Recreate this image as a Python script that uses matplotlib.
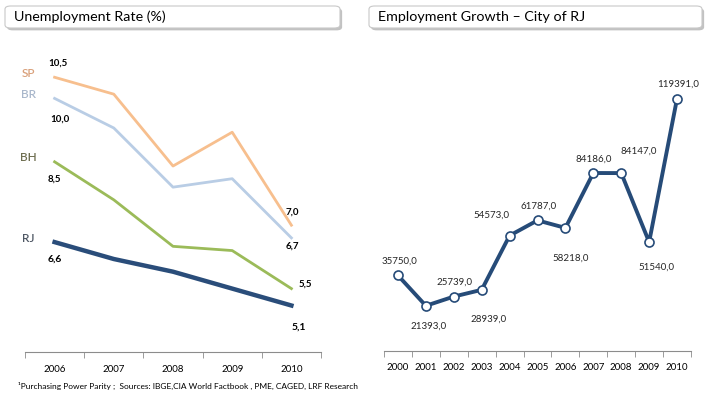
import numpy as np
import matplotlib
matplotlib.use("Agg")
import matplotlib.pyplot as plt
from matplotlib.patches import FancyBboxPatch

plt.rcParams['font.family'] = ['Lato', 'DejaVu Sans']

# dados - taxa de desemprego
anos = ['2006', '2007', '2008', '2009', '2010']
sp = [10.5, 10.1, 8.4, 9.2, 7.0]
br = [10.0, 9.3, 7.9, 8.1, 6.7]
bh = [8.5, 7.6, 6.5, 6.4, 5.5]
rj = [6.6, 6.2, 5.9, 5.5, 5.1]

# dados - crescimento do emprego RJ
anos_rj = ['2000', '2001', '2002', '2003', '2004', '2005',
           '2006', '2007', '2008', '2009', '2010']
emprego = [35750, 21393, 25739, 28939, 54573, 61787,
           58218, 84186, 84147, 51540, 119391]

W, H = 708, 396
fig = plt.figure(figsize=(W / 100, H / 100), dpi=100)


def px_axes(x0, y_top, x1, y_bot):
    return fig.add_axes([x0 / W, 1 - y_bot / H, (x1 - x0) / W, (y_bot - y_top) / H])


def caixa_titulo(x0, x1, texto):
    sombra = FancyBboxPatch((x0 / W + 0.003, 1 - 28 / H - 0.006), (x1 - x0) / W, 22 / H,
                            boxstyle="round,pad=0,rounding_size=0.008",
                            transform=fig.transFigure, fc='#9a9a9a', ec='none', alpha=0.6)
    caixa = FancyBboxPatch((x0 / W, 1 - 28 / H), (x1 - x0) / W, 22 / H,
                           boxstyle="round,pad=0,rounding_size=0.008",
                           transform=fig.transFigure, fc='white', ec='#c8c8c8', lw=0.8)
    fig.patches.extend([sombra, caixa])
    fig.text((x0 + 9) / W, 1 - 17 / H, texto, fontsize=10.3, va='center', ha='left', color='black')


def estilo_eixo(ax, n):
    for s in ['top', 'right', 'left']:
        ax.spines[s].set_visible(False)
    ax.spines['bottom'].set_color('#8c8c8c')
    ax.set_yticks([])
    ax.set_xlim(-0.5, n - 0.5)
    ax.set_xticks(np.arange(n))
    ax.set_xticks(np.arange(n + 1) - 0.5, minor=True)
    ax.tick_params(axis='x', which='major', length=0, labelsize=7, pad=9, colors='black')
    ax.tick_params(axis='x', which='minor', length=4, color='#8c8c8c')


# grafico esquerdo
ax1 = px_axes(25, 35, 321, 352)
x = np.arange(len(anos))
ax1.plot(x, sp, color='#f7bf8e', lw=2.0)
ax1.plot(x, br, color='#b9cde5', lw=2.0)
ax1.plot(x, bh, color='#9bbb59', lw=2.0)
ax1.plot(x, rj, color='#2a4d7a', lw=3.2)
ax1.set_ylim(4, 11.5)
ax1.set_xticklabels(anos)
estilo_eixo(ax1, len(anos))

rotulos = [('SP', sp[0], '#d9a07a'), ('BR', br[0], '#a9b7cb'),
           ('BH', bh[0], '#6e6e50'), ('RJ', rj[0], '#4d5663')]
for nome, v, cor in rotulos:
    ax1.annotate(nome, (0, v), xytext=(-26, 4), textcoords='offset pixels',
                 fontsize=8.5, color=cor, ha='center', va='center', fontweight='semibold')

def rot(ax, xi, v, txt, dx, dy, **kw):
    ax.annotate(txt, (xi, v), xytext=(dx, dy), textcoords='offset pixels',
                ha='center', va='center', annotation_clip=False, **kw)

fmt = lambda v: f"{v:.1f}".replace('.', ',')
rot(ax1, 0, sp[0], fmt(sp[0]), 3, 14, fontsize=7, fontweight='bold')
rot(ax1, 0, br[0], fmt(br[0]), 5, -21, fontsize=7, fontweight='bold')
rot(ax1, 0, bh[0], fmt(bh[0]), 0, -17, fontsize=7, fontweight='bold')
rot(ax1, 0, rj[0], fmt(rj[0]), 0, -17, fontsize=7.5, fontweight='bold')
rot(ax1, 4, sp[4], fmt(sp[4]), 1, 13, fontsize=7, fontweight='bold')
rot(ax1, 4, br[4], fmt(br[4]), 1, -8, fontsize=7, fontweight='bold')
rot(ax1, 4, bh[4], fmt(bh[4]), 14, 4, fontsize=7, fontweight='bold')
rot(ax1, 4, rj[4], fmt(rj[4]), 7, -22, fontsize=7.5, fontweight='bold')

# grafico direito
ax2 = px_axes(384, 55, 691, 351)
x2 = np.arange(len(anos_rj))
ax2.plot(x2, emprego, color='#264b78', lw=2.8, marker='o', ms=6.5,
         mfc='white', mec='#264b78', mew=1.2)
ax2.set_ylim(0, 140000)
ax2.set_xticklabels(anos_rj)
estilo_eixo(ax2, len(anos_rj))

deslocs = [(1, 14), (3, -20), (1, 14), (7, -29), (-18, 20), (1, 14),
           (5, -30), (0, 14), (17, 22), (7, -25), (1, 14)]
for i, (v, (dx, dy)) in enumerate(zip(emprego, deslocs)):
    rot(ax2, i, v, f"{v},0", dx, dy, fontsize=7, color='#262626')

caixa_titulo(5, 340, 'Unemployment Rate (%)')
caixa_titulo(369, 702, 'Employment Growth – City of RJ')

fig.text(18 / W, 1 - 386 / H,
         '¹Purchasing Power Parity ;  Sources: IBGE,CIA World Factbook , PME, CAGED, LRF Research',
         fontsize=6, va='center', ha='left', color='black')

fig.savefig('out.png', dpi=100)
